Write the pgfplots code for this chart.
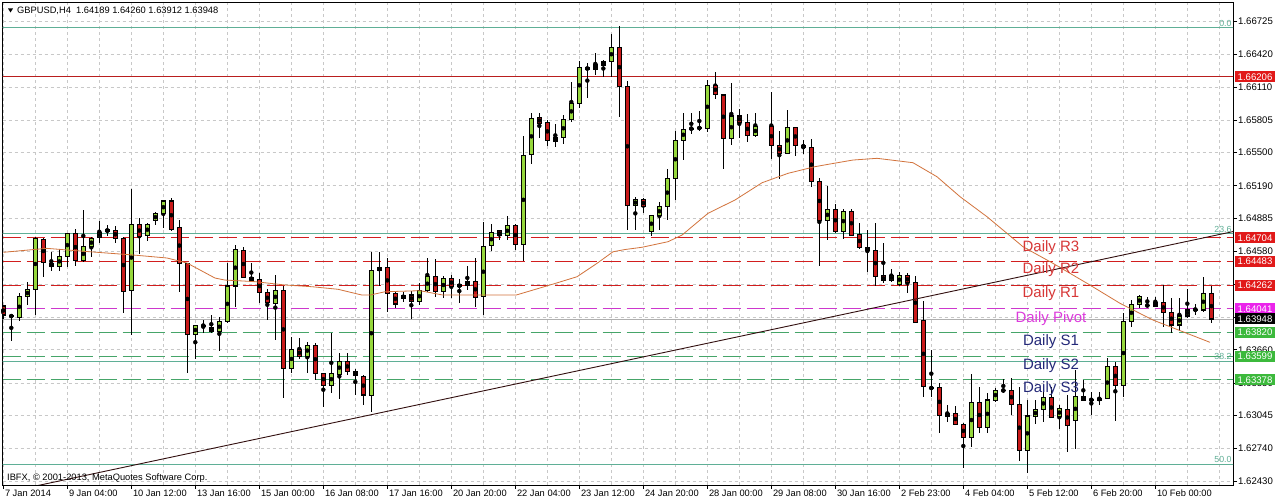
\documentclass[border=0pt]{standalone}
\usepackage{pgfplots}
\pgfplotsset{compat=1.18}
\usepackage{pgfplotstable}
\usepackage{fontspec}
\setmainfont{Liberation Sans}
\definecolor{fibcol}{RGB}{95,175,150}
\definecolor{rdash}{RGB}{210,30,30}
\definecolor{rsolid}{RGB}{185,30,30}
\definecolor{pdash}{RGB}{205,55,205}
\definecolor{gdash}{RGB}{70,165,105}
\definecolor{bullcol}{RGB}{150,215,60}
\definecolor{bearcol}{RGB}{200,25,25}
\definecolor{macol}{RGB}{210,115,60}
\definecolor{trcol}{RGB}{50,15,15}
\definecolor{boxr}{RGB}{225,25,25}
\definecolor{boxm}{RGB}{235,35,235}
\definecolor{boxg}{RGB}{60,185,60}
\definecolor{lblr}{RGB}{215,55,55}
\definecolor{lblp}{RGB}{220,60,220}
\definecolor{lbls}{RGB}{35,40,120}
\definecolor{gridcol}{RGB}{200,200,200}
\definecolor{curcol}{RGB}{175,175,175}

\pgfplotstableread{
x o h l c
0 1.64068 1.64077 1.63944 1.63984
1 1.63981 1.63984 1.63745 1.63969
2 1.63962 1.64186 1.63931 1.64161
3 1.64155 1.64295 1.64077 1.64224
4 1.64224 1.64709 1.63984 1.64699
5 1.64693 1.64699 1.64342 1.64472
6 1.64466 1.64575 1.64398 1.64435
7 1.64441 1.64597 1.64398 1.64528
8 1.64528 1.64752 1.64435 1.64746
9 1.64746 1.64783 1.64444 1.64491
10 1.64491 1.64964 1.64482 1.64622
11 1.64622 1.64709 1.64522 1.64699
12 1.64709 1.64864 1.64659 1.64755
13 1.64762 1.64824 1.64721 1.64783
14 1.64777 1.64814 1.64659 1.64699
15 1.64699 1.64715 1.64006 1.64202
16 1.64211 1.65160 1.63797 1.64830
17 1.64830 1.64886 1.64553 1.64715
18 1.64730 1.64846 1.64678 1.64830
19 1.64864 1.64948 1.64824 1.64933
20 1.64933 1.65057 1.64799 1.65048
21 1.65048 1.65073 1.64771 1.64783
22 1.64799 1.64870 1.64202 1.64466
23 1.64466 1.64472 1.63446 1.63804
24 1.63804 1.63891 1.63570 1.63885
25 1.63886 1.63937 1.63813 1.63886
26 1.63866 1.63984 1.63813 1.63829
27 1.63829 1.63969 1.63651 1.63922
28 1.63922 1.64466 1.63906 1.64255
29 1.64255 1.64637 1.64062 1.64597
30 1.64591 1.64615 1.64326 1.64332
31 1.64336 1.64466 1.64295 1.64311
32 1.64317 1.64373 1.64093 1.64192
33 1.64192 1.64224 1.63937 1.64099
34 1.64093 1.64357 1.63751 1.64217
35 1.64217 1.64255 1.63207 1.63486
36 1.63486 1.63776 1.63446 1.63664
37 1.63664 1.63766 1.63570 1.63602
38 1.63602 1.63735 1.63446 1.63704
39 1.63704 1.63720 1.63378 1.63440
40 1.63440 1.63446 1.63129 1.63331
41 1.63331 1.63819 1.63259 1.63440
42 1.63434 1.63626 1.63197 1.63555
43 1.63555 1.63626 1.63424 1.63455
44 1.63455 1.63486 1.63238 1.63424
45 1.63415 1.63424 1.63144 1.63238
46 1.63231 1.64569 1.63076 1.64398
47 1.64398 1.64569 1.64258 1.64429
48 1.64429 1.64513 1.64015 1.64186
49 1.64186 1.64202 1.64046 1.64087
50 1.64140 1.64202 1.64108 1.64171
51 1.64171 1.64208 1.63944 1.64108
52 1.64108 1.64286 1.64077 1.64211
53 1.64211 1.64513 1.64202 1.64342
54 1.64342 1.64503 1.64155 1.64202
55 1.64202 1.64348 1.64140 1.64326
56 1.64326 1.64357 1.64140 1.64248
57 1.64248 1.64317 1.64099 1.64270
58 1.64258 1.64444 1.64217 1.64301
59 1.64301 1.64513 1.64056 1.64149
60 1.64155 1.64855 1.63984 1.64622
61 1.64631 1.64833 1.64584 1.64752
62 1.64771 1.64783 1.64690 1.64724
63 1.64724 1.64908 1.64684 1.64818
64 1.64818 1.64833 1.64591 1.64643
65 1.64643 1.65654 1.64488 1.65477
66 1.65483 1.65866 1.65390 1.65819
67 1.65828 1.65866 1.65632 1.65772
68 1.65779 1.65803 1.65561 1.65617
69 1.65601 1.65766 1.65555 1.65642
70 1.65642 1.65850 1.65576 1.65810
71 1.65810 1.66155 1.65788 1.65959
72 1.65959 1.66354 1.65912 1.66295
73 1.66295 1.66332 1.66012 1.66276
74 1.66276 1.66432 1.66223 1.66317
75 1.66317 1.66363 1.66208 1.66354
76 1.66354 1.66603 1.66202 1.66481
77 1.66481 1.66680 1.65835 1.66114
78 1.66114 1.66167 1.64777 1.65004
79 1.65004 1.65088 1.64777 1.65063
80 1.65063 1.65073 1.64939 1.64995
81 1.64762 1.64917 1.64721 1.64911
82 1.64911 1.65041 1.64777 1.64995
83 1.64995 1.65343 1.64870 1.65259
84 1.65259 1.65701 1.65057 1.65617
85 1.65617 1.65866 1.65430 1.65716
86 1.65723 1.65866 1.65673 1.65723
87 1.65729 1.65887 1.65704 1.65729
88 1.65726 1.66177 1.65695 1.66130
89 1.66130 1.66254 1.65999 1.66043
90 1.66037 1.66037 1.65343 1.65632
91 1.65632 1.66152 1.65570 1.65841
92 1.65841 1.65906 1.65632 1.65782
93 1.65782 1.65859 1.65601 1.65663
94 1.65663 1.65866 1.65642 1.65741
96 1.65741 1.66068 1.65436 1.65564
97 1.65570 1.65701 1.65250 1.65492
98 1.65492 1.65897 1.65486 1.65735
99 1.65735 1.65741 1.65468 1.65564
100 1.65570 1.65617 1.65486 1.65548
101 1.65548 1.65632 1.65181 1.65228
102 1.65228 1.65265 1.64441 1.64870
103 1.64870 1.65188 1.64684 1.64970
104 1.64970 1.65020 1.64752 1.64768
105 1.64768 1.64970 1.64699 1.64954
106 1.64954 1.64970 1.64721 1.64730
107 1.64737 1.64846 1.64597 1.64612
108 1.64615 1.64777 1.64388 1.64584
109 1.64591 1.64846 1.64255 1.64348
110 1.64351 1.64659 1.64286 1.64304
111 1.64304 1.64410 1.64295 1.64357
112 1.64273 1.64388 1.64258 1.64357
113 1.64351 1.64373 1.64192 1.64286
114 1.64286 1.64348 1.63906 1.63913
115 1.63928 1.64118 1.63216 1.63315
116 1.63303 1.63658 1.63216 1.63303
117 1.63306 1.63353 1.62886 1.63045
118 1.63036 1.63144 1.62989 1.63067
119 1.63067 1.63135 1.62958 1.62964
120 1.62964 1.62973 1.62553 1.62843
121 1.62840 1.63434 1.62756 1.63169
122 1.63169 1.63315 1.62886 1.62933
123 1.62933 1.63253 1.62886 1.63191
124 1.63191 1.63306 1.63175 1.63284
125 1.63281 1.63387 1.63259 1.63281
126 1.63284 1.63399 1.63051 1.63151
127 1.63151 1.63315 1.62625 1.62718
128 1.62718 1.63191 1.62507 1.63042
129 1.63036 1.63191 1.62964 1.63104
130 1.63104 1.63284 1.62989 1.63216
131 1.63216 1.63315 1.63020 1.63029
132 1.63036 1.63144 1.62917 1.63113
133 1.63104 1.63238 1.62709 1.62952
134 1.62998 1.63471 1.62731 1.63222
135 1.63222 1.63378 1.63185 1.63191
136 1.63194 1.63269 1.63051 1.63194
137 1.63191 1.63263 1.63144 1.63207
138 1.63207 1.63580 1.63197 1.63502
139 1.63502 1.63549 1.62998 1.63331
140 1.63331 1.64006 1.63222 1.63928
141 1.63928 1.64124 1.63869 1.64084
142 1.64084 1.64171 1.64046 1.64155
143 1.64074 1.64155 1.64068 1.64074
144 1.64068 1.64155 1.64062 1.64102
145 1.64102 1.64264 1.63875 1.64009
146 1.64009 1.64140 1.63813 1.63891
147 1.63891 1.64140 1.63835 1.63975
148 1.63975 1.64227 1.63953 1.64031
149 1.64034 1.64087 1.63984 1.64034
150 1.64031 1.64336 1.64009 1.64186
151 1.64189 1.64260 1.63912 1.63948
}\candles

\begin{document}
\begin{tikzpicture}
\fill[white] (0pt,0pt) rectangle (1276pt,503pt);
\useasboundingbox (0pt,0pt) rectangle (1276pt,503pt);
\begin{axis}[
  at={(2.7pt,18pt)}, anchor=south west,
  scale only axis, width=1230.3pt, height=482.3pt,
  xmin=-0.075, xmax=153.71, ymin=1.62398, ymax=1.66898,
  clip mode=individual,
  axis line style={black, line width=0.8pt},
  tick style={black, line width=0.6pt},
  tick align=outside, major tick length=4pt,
  xtick pos=bottom, ytick pos=right, yticklabel pos=right,
  xtick={0,8,...,144},
  xticklabels={7 Jan 2014,9 Jan 04:00,10 Jan 12:00,13 Jan 16:00,15 Jan 00:00,16 Jan 08:00,17 Jan 16:00,20 Jan 20:00,22 Jan 04:00,23 Jan 12:00,24 Jan 20:00,28 Jan 00:00,29 Jan 08:00,30 Jan 16:00,2 Feb 23:00,4 Feb 04:00,5 Feb 12:00,6 Feb 20:00,10 Feb 00:00},
  extra x ticks={4,12,20,28,36,44,52,60,68,76,84,92,100,108,116,124,132,140,148,152},
  extra x tick style={major tick length=0pt, grid=major, xticklabel={}},
  ytick={1.62430,1.62740,1.63045,1.63350,1.63660,1.63965,1.64270,1.64580,1.64885,1.65190,1.65500,1.65805,1.66110,1.66420,1.66725},
  yticklabels={1.62430,1.62740,1.63045,1.63350,1.63660,1.63965,1.64270,1.64580,1.64885,1.65190,1.65500,1.65805,1.66110,1.66420,1.66725},
  grid=major,
  grid style={gridcol, dash pattern=on 3pt off 3pt, line width=0.6pt},
  xticklabel style={font=\fontsize{9.3}{10}\selectfont, anchor=north west, inner sep=1pt, xshift=0.5pt},
  yticklabel style={font=\fontsize{9.6}{10}\selectfont, anchor=west, inner sep=1pt},
]
% horizontal levels
\addplot[draw=fibcol, line width=0.9pt] coordinates {(-5,1.66668) (160,1.66668)};
\addplot[draw=fibcol, line width=0.9pt] coordinates {(-5,1.64746) (160,1.64746)};
\addplot[draw=fibcol, line width=0.9pt] coordinates {(-5,1.63555) (160,1.63555)};
\addplot[draw=fibcol, line width=0.9pt] coordinates {(-5,1.62594) (160,1.62594)};
\addplot[draw=rsolid, line width=0.9pt] coordinates {(-5,1.66206) (160,1.66206)};
\addplot[draw=rdash, line width=1.1pt, dash pattern=on 18pt off 6pt] coordinates {(-0.075,1.64704) (160,1.64704)};
\addplot[draw=rdash, line width=1.1pt, dash pattern=on 18pt off 6pt] coordinates {(-0.075,1.64483) (160,1.64483)};
\addplot[draw=rdash, line width=1.1pt, dash pattern=on 18pt off 6pt] coordinates {(-0.075,1.64262) (160,1.64262)};
\addplot[draw=pdash, line width=1pt, dash pattern=on 18pt off 6pt] coordinates {(-0.075,1.64041) (160,1.64041)};
\addplot[draw=gdash, line width=1pt, dash pattern=on 18pt off 6pt] coordinates {(-0.075,1.63820) (160,1.63820)};
\addplot[draw=gdash, line width=1pt, dash pattern=on 18pt off 6pt] coordinates {(-0.075,1.63599) (160,1.63599)};
\addplot[draw=gdash, line width=1pt, dash pattern=on 18pt off 6pt] coordinates {(-0.075,1.63378) (160,1.63378)};
\addplot[draw=curcol, line width=0.7pt] coordinates {(-5,1.63948) (160,1.63948)};
% wicks
\addplot[only marks, mark=none, error bars/.cd, y dir=both, y explicit, error mark=none,
  error bar style={black, line width=1pt}]
  table[x=x, y expr={(\thisrow{h}+\thisrow{l})/2}, y error expr={(\thisrow{h}-\thisrow{l})/2}] {\candles};
% bullish bodies
\addplot[only marks, mark=none, restrict expr to domain={\thisrow{c}-\thisrow{o}}{0:1},
  error bars/.cd, y dir=both, y explicit, error mark=none, error bar style={black, line width=5.5pt}]
  table[x=x, y expr={(\thisrow{o}+\thisrow{c})/2}, y error expr={abs(\thisrow{c}-\thisrow{o})/2+0.00005}] {\candles};
\addplot[only marks, mark=none, restrict expr to domain={\thisrow{c}-\thisrow{o}}{0:1},
  error bars/.cd, y dir=both, y explicit, error mark=none, error bar style={bullcol, line width=3.5pt}]
  table[x=x, y expr={(\thisrow{o}+\thisrow{c})/2}, y error expr={max(abs(\thisrow{c}-\thisrow{o})/2-0.00005,0)}] {\candles};
% bearish bodies
\addplot[only marks, mark=none, restrict expr to domain={\thisrow{o}-\thisrow{c}}{0.000001:1},
  error bars/.cd, y dir=both, y explicit, error mark=none, error bar style={black, line width=5.5pt}]
  table[x=x, y expr={(\thisrow{o}+\thisrow{c})/2}, y error expr={abs(\thisrow{c}-\thisrow{o})/2+0.00005}] {\candles};
\addplot[only marks, mark=none, restrict expr to domain={\thisrow{o}-\thisrow{c}}{0.000001:1},
  error bars/.cd, y dir=both, y explicit, error mark=none, error bar style={bearcol, line width=3.5pt}]
  table[x=x, y expr={(\thisrow{o}+\thisrow{c})/2}, y error expr={max(abs(\thisrow{c}-\thisrow{o})/2-0.00005,0)}] {\candles};
% moving average
\addplot[draw=macol, line width=0.8pt] coordinates {
(0,1.64569) (5.43,1.64606) (10.84,1.64574) (16.21,1.64544) (20.46,1.64516) (22.96,1.64469) (24.59,1.64404) (26.46,1.64329) (27.71,1.64310) (29.34,1.64304) (31.46,1.64295) (35.21,1.64264) (38.59,1.64248) (41.84,1.64224) (44.84,1.64170) (45.84,1.64170) (47.71,1.64201) (52.09,1.64211) (54.96,1.64170) (64.09,1.64170) (68.34,1.64264) (71.71,1.64341) (74.21,1.64466) (76.21,1.64574) (77.71,1.64595) (79.84,1.64616) (83.09,1.64668) (84.84,1.64730) (88.09,1.64933) (91.46,1.65057) (94.84,1.65218) (98.09,1.65306) (101.46,1.65368) (103.34,1.65393) (106.21,1.65430) (109.21,1.65446) (113.71,1.65405) (116.71,1.65274) (119.59,1.65088) (122.96,1.64901) (125.46,1.64746) (127.46,1.64621) (131.21,1.64466) (135.46,1.64280) (139.59,1.64093) (143.71,1.63937) (147.96,1.63813) (150.84,1.63729)};
% trend line
\addplot[draw=trcol, line width=0.9pt] coordinates {(-10,1.62166) (160,1.64862)};
% labels
\node[text=lblr, font=\fontsize{15}{16}\selectfont] at (axis cs:130.96,1.64616) {Daily R3};
\node[text=lblr, font=\fontsize{15}{16}\selectfont] at (axis cs:130.96,1.64404) {Daily R2};
\node[text=lblr, font=\fontsize{15}{16}\selectfont] at (axis cs:130.96,1.64186) {Daily R1};
\node[text=lblp, font=\fontsize{15}{16}\selectfont] at (axis cs:130.96,1.63953) {Daily Pivot};
\node[text=lbls, font=\fontsize{15}{16}\selectfont] at (axis cs:130.96,1.63735) {Daily S1};
\node[text=lbls, font=\fontsize{15}{16}\selectfont] at (axis cs:130.96,1.63508) {Daily S2};
\node[text=lbls, font=\fontsize{15}{16}\selectfont] at (axis cs:130.96,1.63300) {Daily S3};
\node[anchor=south east, text=fibcol, font=\fontsize{8.8}{9}\selectfont, inner sep=0.8pt] at (axis cs:153.65,1.66668) {0.0};
\node[anchor=south east, text=fibcol, font=\fontsize{8.8}{9}\selectfont, inner sep=0.8pt] at (axis cs:153.65,1.64746) {23.6};
\node[anchor=south east, text=fibcol, font=\fontsize{8.8}{9}\selectfont, inner sep=0.8pt] at (axis cs:153.65,1.63555) {38.2};
\node[anchor=south east, text=fibcol, font=\fontsize{8.8}{9}\selectfont, inner sep=0.8pt] at (axis cs:153.65,1.62594) {50.0};
\coordinate (b1) at (axis cs:153.71,1.66206);
\coordinate (b2) at (axis cs:153.71,1.64704);
\coordinate (b3) at (axis cs:153.71,1.64483);
\coordinate (b4) at (axis cs:153.71,1.64262);
\coordinate (b5) at (axis cs:153.71,1.64041);
\coordinate (b6) at (axis cs:153.71,1.63948);
\coordinate (b7) at (axis cs:153.71,1.63820);
\coordinate (b8) at (axis cs:153.71,1.63599);
\coordinate (b9) at (axis cs:153.71,1.63378);
\end{axis}
\foreach \c/\col/\t in {b1/boxr/1.66206, b2/boxr/1.64704, b3/boxr/1.64483, b4/boxr/1.64262, b5/boxm/1.64041, b6/black/1.63948, b7/boxg/1.63820, b8/boxg/1.63599, b9/boxg/1.63378}{
  \node[fill=\col, text=white, anchor=west, font=\fontsize{9.6}{10}\selectfont, inner xsep=2.5pt, inner ysep=0pt, minimum height=11pt] at ([xshift=2pt]\c) {\t};
}
\fill[black] (8pt,494.5pt) -- (13pt,494.5pt) -- (10.5pt,490.5pt) -- cycle;
\node[anchor=west, inner sep=0pt, font=\fontsize{9.3}{10}\selectfont] at (17pt,492.5pt) {GBPUSD,H4\ \ 1.64189 1.64260 1.63912 1.63948};
\node[anchor=west, inner sep=0pt, font=\fontsize{9.3}{10}\selectfont] at (7pt,25pt) {IBFX, © 2001-2013, MetaQuotes Software Corp.};
\end{tikzpicture}
\end{document}
